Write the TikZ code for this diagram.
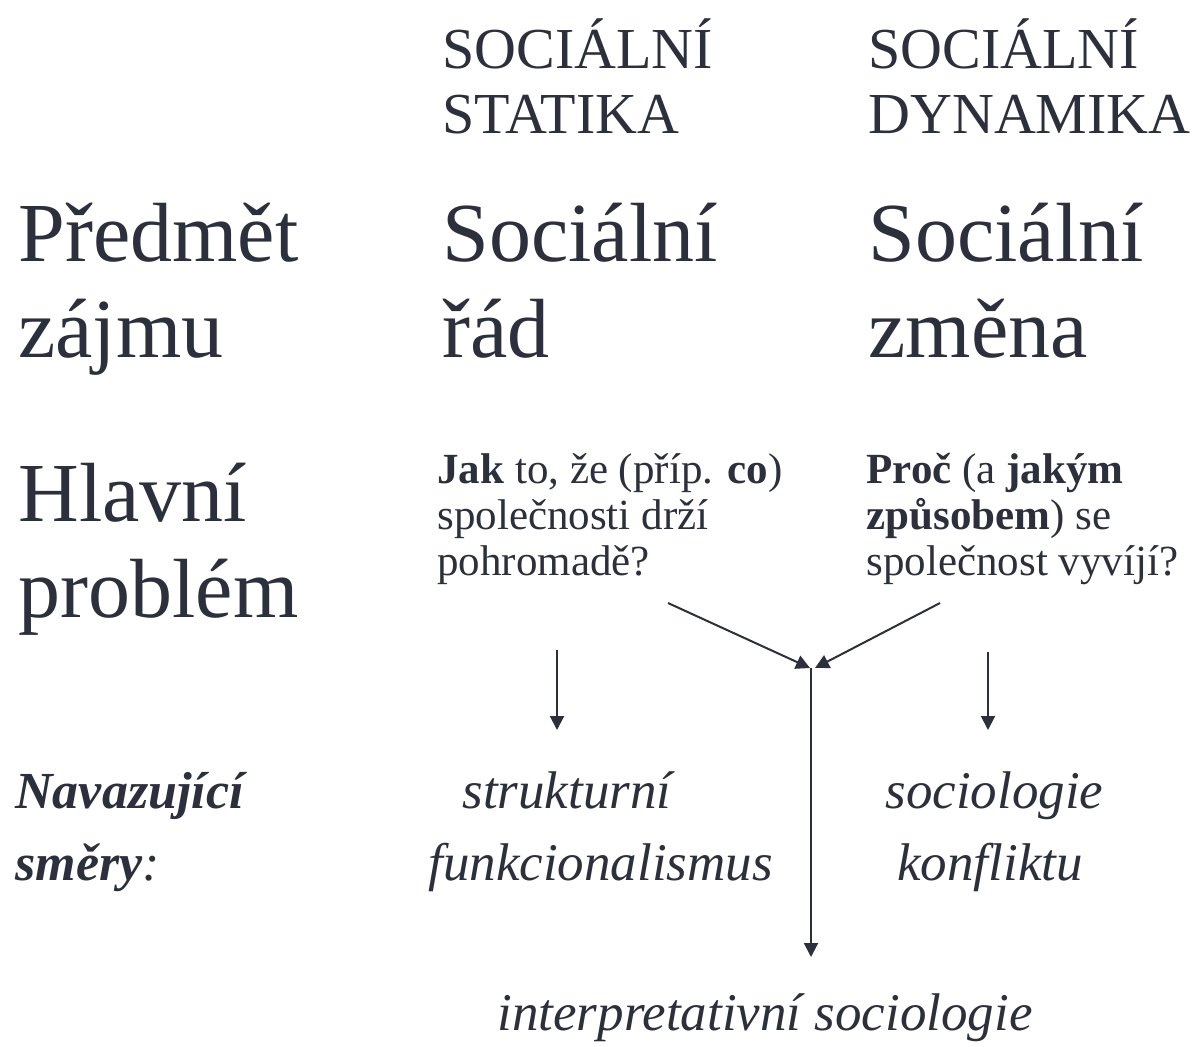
\documentclass[tikz,border=0pt]{standalone}
\usepackage{fontspec}
\setmainfont{Liberation Serif}
\usepackage{tikz}
\usetikzlibrary{arrows.meta,positioning}
\definecolor{ink}{RGB}{44,48,60}
\tikzstyle{head}=[anchor=base west,align=left,inner sep=0pt,text=ink,
font=\fontsize{29}{32.5}\selectfont]
\tikzstyle{big}=[anchor=base west,align=left,inner sep=0pt,text=ink,
font=\fontsize{42}{48}\selectfont]
\tikzstyle{quest}=[anchor=base west,align=left,inner sep=0pt,text=ink,
font=\fontsize{21.5}{23}\selectfont]
\tikzstyle{dir}=[anchor=base west,align=left,inner sep=0pt,text=ink,
font=\itshape\fontsize{26.5}{36}\selectfont]
\tikzstyle{arr}=[draw=ink,line width=1pt,-{Triangle[length=7pt,width=7pt]}]

\begin{document}
\begin{tikzpicture}[x=0.5pt,y=-0.5pt]
            \useasboundingbox (0,0) rectangle (1194,1046);

            % HEADER PART (anchored at the last baseline)

            \node[head] (statika) at (442,133) {SOCIÁLNÍ\\STATIKA};
            \node[head] (dynamika) at (868,133) {SOCIÁLNÍ\\DYNAMIKA};

            % ROW LABELS

            \node[big] (predmet) at (18,357) {Předmět\\zájmu};
            \node[big] (hlavni) at (18,617) {Hlavní\\problém};
            \node[dir,font=\bfseries\itshape\fontsize{26}{36}\selectfont] (navaz) at (15,880)
                {Navazující\\\textbf{směry}\textmd{:}};

            % CELLS

            \node[big] (rad) at (442,357) {Sociální\\řád};
            \node[big] (zmena) at (868,357) {Sociální\\změna};
            \node[quest] (jak) at (437,575)
                {\textbf{Jak} to, že (příp. \textbf{co})\\společnosti drží\\pohromadě?};
            \node[quest] (proc) at (866,575)
                {\textbf{Proč} (a \textbf{jakým}\\\textbf{způsobem}) se\\společnost vyvíjí?};
            \node[dir] (struk) at (428,880) {\hspace{17pt}strukturní\\funkcionalismus};
            \node[dir] (konf) at (885,880) {sociologie\\\hspace{6pt}konfliktu};
            \node[dir] (interp) at (497,1030) {interpretativní sociologie};

            % ARROWS

            \coordinate (jakout) at (557,650);
            \coordinate (strukin) at (557,730);
            \coordinate (procout) at (988,652);
            \coordinate (konfin) at (988,730);
            \coordinate (jakx) at (668,603);
            \coordinate (procx) at (940,603);
            \coordinate (joinl) at (810,668);
            \coordinate (joinr) at (815,668);
            \coordinate (join) at (811,668);
            \coordinate (interpin) at (811,957);

            \draw[arr] (jakout) -- (strukin);
            \draw[arr] (procout) -- (konfin);
            \draw[arr] (jakx) -- (joinl);
            \draw[arr] (procx) -- (joinr);
            \draw[arr] (join) -- (interpin);

\end{tikzpicture}
\end{document}
